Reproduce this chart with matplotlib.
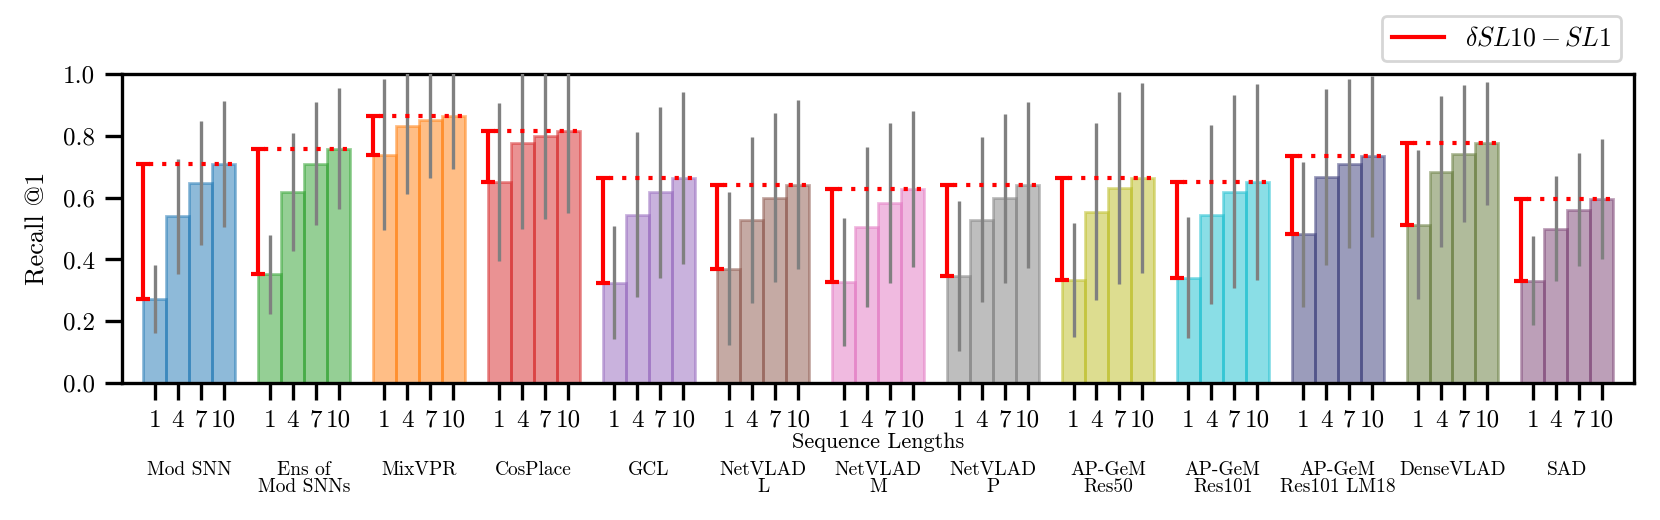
import numpy as np
import matplotlib
matplotlib.use("Agg")
import matplotlib.pyplot as plt
from matplotlib.lines import Line2D
from matplotlib.transforms import blended_transform_factory

plt.rcParams['font.family'] = ['cmr10', 'DejaVu Serif']
plt.rcParams['mathtext.fontset'] = 'cm'
plt.rcParams['axes.formatter.use_mathtext'] = True

methods = ["Mod SNN", "Ens of\nMod SNNs", "MixVPR", "CosPlace", "GCL",
           "NetVLAD\nL", "NetVLAD\nM", "NetVLAD\nP", "AP-GeM\nRes50",
           "AP-GeM\nRes101", "AP-GeM\nRes101 LM18", "DenseVLAD", "SAD"]
seq_lengths = ["1", "4", "7", "10"]
colors = ["tab:blue", "tab:green", "tab:orange", "tab:red", "tab:purple",
          "tab:brown", "tab:pink", "tab:gray", "tab:olive", "tab:cyan",
          "#393b79", "#637939", "#7b4173"]

recall_sl1 = [0.272, 0.352, 0.739, 0.651, 0.325, 0.370, 0.328, 0.347, 0.333, 0.341, 0.481, 0.512, 0.332]
recall_sl4 = [0.539, 0.619, 0.830, 0.776, 0.545, 0.528, 0.506, 0.528, 0.555, 0.545, 0.666, 0.684, 0.499]
recall_sl7 = [0.647, 0.709, 0.851, 0.800, 0.617, 0.600, 0.583, 0.598, 0.631, 0.619, 0.710, 0.742, 0.561]
recall_sl10 = [0.709, 0.758, 0.864, 0.814, 0.663, 0.642, 0.627, 0.641, 0.664, 0.651, 0.733, 0.775, 0.597]

std_sl1 = [0.110, 0.127, 0.243, 0.256, 0.183, 0.248, 0.207, 0.242, 0.185, 0.195, 0.233, 0.241, 0.143]
std_sl4 = [0.187, 0.191, 0.219, 0.277, 0.267, 0.268, 0.259, 0.267, 0.287, 0.290, 0.284, 0.243, 0.170]
std_sl7 = [0.201, 0.199, 0.189, 0.268, 0.276, 0.272, 0.258, 0.273, 0.311, 0.312, 0.274, 0.222, 0.182]
std_sl10 = [0.203, 0.195, 0.172, 0.264, 0.277, 0.272, 0.252, 0.269, 0.308, 0.316, 0.260, 0.199, 0.194]

recall = np.array([recall_sl1, recall_sl4, recall_sl7, recall_sl10]).T
std = np.array([std_sl1, std_sl4, std_sl7, std_sl10]).T

fig, ax = plt.subplots(figsize=(8.3, 2.6), dpi=200)
fig.subplots_adjust(left=0.0733, right=0.9843, top=0.858, bottom=0.263)

n = len(seq_lengths)
gap = n + 1
ticks = []
ticklabels = []
for i, m in enumerate(methods):
    x = np.arange(n) + i * gap
    ax.bar(x, recall[i], width=1, color=colors[i], alpha=0.5,
           edgecolor=colors[i], linewidth=1, zorder=2)
    ax.errorbar(x, recall[i], yerr=std[i], fmt='none', ecolor='gray',
                elinewidth=1.2, capsize=0, zorder=3)
    x0 = i * gap - 0.5
    ax.hlines(recall[i][-1], x0, x[-1] + 0.5, colors='red', linewidth=1.5,
              linestyles=(1.7, (1, 2.15)), zorder=3)
    ax.errorbar([x0], [recall[i][0]], yerr=[[0], [recall[i][-1] - recall[i][0]]],
                fmt='none', ecolor='red', elinewidth=1.5, capsize=2.4,
                capthick=1.5, zorder=4)
    ticks.extend(x)
    ticklabels.extend(seq_lengths)

trans = blended_transform_factory(ax.transData, ax.transAxes)
for i, m in enumerate(methods):
    ax.text(i * gap + (n - 1) / 2, -0.25, m, transform=trans, ha='center',
            va='top', fontsize=7, linespacing=1.0)

ax.set_xticks(ticks)
ax.set_xticklabels(ticklabels)
ax.set_xlim(-1.44, 64.4)
ax.set_ylim(0, 1.0)
ax.set_yticks([0, 0.2, 0.4, 0.6, 0.8, 1.0])
ax.set_yticklabels(["0.0", "0.2", "0.4", "0.6", "0.8", "1.0"])
ax.tick_params(axis='both', labelsize=9, length=6, width=1.2)
for s in ax.spines.values():
    s.set_linewidth(1.2)

ax.set_ylabel("Recall @1", fontsize=9.5, labelpad=5)
ax.set_xlabel("Sequence Lengths", fontsize=8)
ax.xaxis.set_label_coords(0.5, -0.16)

handle = Line2D([0], [0], color='red', linewidth=1.5)
ax.legend([handle], [r'$\delta SL10-SL1$'], loc='lower right',
          bbox_to_anchor=(1, 1), fontsize=9.3)

fig.savefig("out.png", dpi=200)
